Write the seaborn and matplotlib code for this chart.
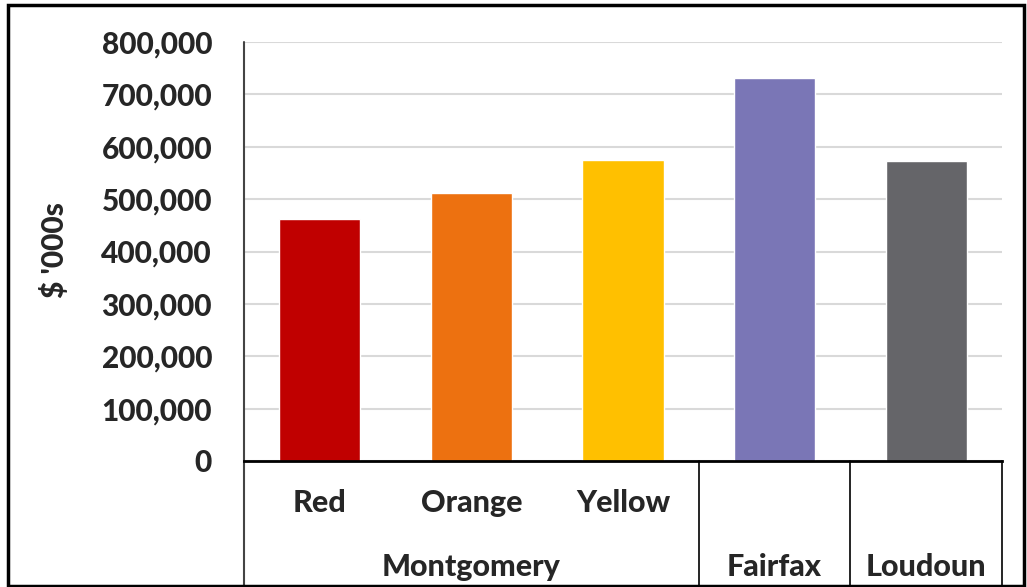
import matplotlib
matplotlib.use("Agg")
import matplotlib.pyplot as plt
import matplotlib.ticker as mticker
from matplotlib.patches import Rectangle
import pandas as pd
import seaborn as sns

categories = ["Red", "Orange", "Yellow", "Fairfax", "Loudoun"]
values = [462000, 512000, 575000, 731000, 573000]
colors = ["#C00000", "#ED7110", "#FFC000", "#7A76B6", "#656569"]
group_labels = ["Montgomery", "Fairfax", "Loudoun"]
group_spans = [(0, 2), (3, 3), (4, 4)]
sub_labels = ["Red", "Orange", "Yellow"]

sns.set_style("white")
plt.rcParams['font.family'] = ['Lato', 'DejaVu Sans']
W = "black"
plt.rcParams['font.weight'] = W

df = pd.DataFrame({"cat": categories, "val": values})

fig = plt.figure(figsize=(10.27, 5.87), dpi=100)
ax = fig.add_axes([244 / 1027, 1 - 461 / 587, (1002 - 244) / 1027, (461 - 42) / 587])

sns.barplot(data=df, x="cat", y="val", hue="cat", palette=colors,
            width=0.535, legend=False, ax=ax, saturation=1)

ax.set_xlim(-0.5, 4.5)
ax.set_ylim(0, 800000)
ax.yaxis.set_major_locator(mticker.MultipleLocator(100000))
ax.yaxis.set_major_formatter(mticker.FuncFormatter(lambda v, p: f"{int(v):,}"))
ax.grid(axis="y", color="#d9d9d9", linewidth=1.5)
ax.set_axisbelow(True)
ax.tick_params(axis="y", length=0, pad=23, labelsize=21.5)
ax.set_xticks([])
ax.set_xlabel("")
ax.set_ylabel("")
for lbl in ax.get_yticklabels():
    lbl.set_fontweight(W)

for s in ["top", "right"]:
    ax.spines[s].set_visible(False)
ax.spines["left"].set_visible(False)
ax.spines["bottom"].set_color("black")
ax.spines["bottom"].set_linewidth(2)

# separators of the category axis
trans = ax.get_xaxis_transform()
ax.plot([-0.5, -0.5], [1, -0.31], transform=trans, color="#444444", lw=1.5, clip_on=False)
for xs in [2.5, 3.5, 4.5]:
    ax.plot([xs, xs], [0, -0.31], transform=trans, color="black", lw=1.2, clip_on=False)

for i, lab in enumerate(sub_labels):
    ax.text(i, -0.10, lab, transform=trans, ha="center", va="center",
            fontsize=22, fontweight=W)
for lab, (a, b) in zip(group_labels, group_spans):
    ax.text((a + b) / 2, -0.253, lab, transform=trans, ha="center", va="center",
            fontsize=22, fontweight=W)

fig.text(55 / 1027, 1 - 250 / 587, "$ '000s", rotation=90, ha="center", va="center",
         fontsize=21.5, fontweight=W)

fig.patches.append(Rectangle((8 / 1027, 1.5 / 587), (1024 - 8) / 1027, (582 - 1.5) / 587,
                             transform=fig.transFigure, fill=False,
                             edgecolor="black", linewidth=2.5))

fig.savefig("out.png", dpi=100)
